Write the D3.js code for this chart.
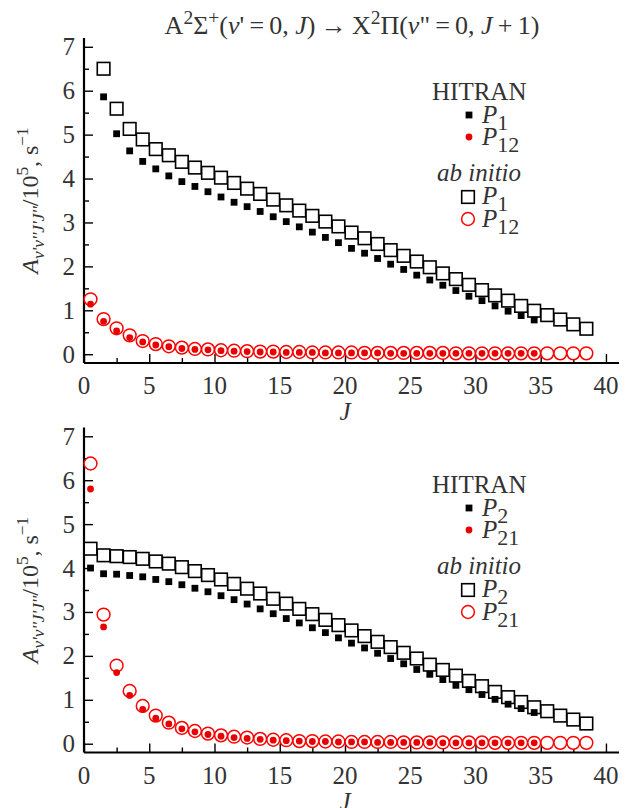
<!DOCTYPE html>
<html>
<head>
<meta charset="utf-8">
<title>A-X P branch</title>
<script src="https://cdn.jsdelivr.net/npm/d3@7/dist/d3.min.js"></script>
<style>
body { margin:0; background:#fff; }
text { font-family:"Liberation Serif","Times New Roman",serif; fill:#333; }
</style>
</head>
<body>
<script>
// J values (half-integer rotational numbers)
var jFrom05 = [0.5,1.5,2.5,3.5,4.5,5.5,6.5,7.5,8.5,9.5,10.5,11.5,12.5,13.5,14.5,15.5,16.5,17.5,18.5,19.5,
               20.5,21.5,22.5,23.5,24.5,25.5,26.5,27.5,28.5,29.5,30.5,31.5,32.5,33.5,34.5,35.5,36.5,37.5,38.5];
var jFrom15 = jFrom05.slice(1);

// top panel : P1 / P12
var p1Hitran = [5.86,5.02,4.63,4.39,4.22,4.06,3.93,3.82,3.70,3.58,3.46,3.36,3.25,3.13,3.02,2.90,2.78,
                2.66,2.54,2.41,2.30,2.18,2.05,1.93,1.80,1.69,1.57,1.45,1.32,1.22,1.10,0.98,0.88,0.78];
var p1Abinit = [6.50,5.59,5.13,4.89,4.67,4.53,4.38,4.25,4.13,4.02,3.90,3.77,3.65,3.52,3.39,3.27,3.15,3.02,2.91,
                2.77,2.64,2.51,2.37,2.24,2.11,1.98,1.84,1.71,1.58,1.46,1.34,1.22,1.10,0.99,0.89,0.79,0.68,0.58];
var p12Hitran = [1.14,0.75,0.53,0.38,0.28,0.21,0.17,0.13,0.11,0.10,0.08,0.07,0.06,0.05,0.05,0.04,0.04,0.04,
                 0.03,0.03,0.03,0.03,0.03,0.02,0.02,0.02,0.02,0.02,0.02,0.02,0.02,0.02,0.02,0.02,0.02];
var p12Abinit = [1.25,0.80,0.59,0.43,0.30,0.23,0.18,0.15,0.12,0.11,0.09,0.08,0.07,0.06,0.06,0.05,0.05,0.04,0.04,0.04,
                 0.04,0.03,0.03,0.03,0.03,0.03,0.03,0.03,0.02,0.02,0.02,0.02,0.02,0.02,0.02,0.02,0.02,0.02,0.02];

// bottom panel : P2 / P21
var p2Hitran = [4.00,3.87,3.86,3.83,3.80,3.74,3.69,3.62,3.54,3.46,3.37,3.28,3.18,3.07,2.96,2.85,2.75,2.64,
                2.53,2.41,2.29,2.18,2.06,1.94,1.82,1.69,1.58,1.46,1.33,1.23,1.12,1.01,0.90,0.80,0.71];
var p2Abinit = [4.44,4.29,4.27,4.25,4.21,4.15,4.10,4.02,3.93,3.84,3.74,3.64,3.53,3.42,3.30,3.19,3.07,2.95,2.82,
                2.70,2.58,2.45,2.32,2.20,2.07,1.94,1.80,1.68,1.55,1.43,1.31,1.18,1.06,0.95,0.83,0.74,0.64,0.55,0.46];
var p21Hitran = [5.80,2.66,1.62,1.10,0.78,0.58,0.45,0.34,0.27,0.21,0.17,0.14,0.12,0.10,0.08,0.07,0.06,0.05,
                 0.05,0.04,0.04,0.04,0.03,0.03,0.03,0.03,0.03,0.02,0.02,0.02,0.02,0.02,0.02,0.02,0.02];
var p21Abinit = [6.38,2.94,1.78,1.20,0.86,0.64,0.48,0.36,0.29,0.23,0.19,0.16,0.14,0.11,0.09,0.08,0.06,0.06,0.05,0.05,
                 0.04,0.04,0.04,0.04,0.03,0.03,0.03,0.03,0.03,0.03,0.03,0.02,0.02,0.02,0.02,0.02,0.02,0.02,0.02];

var xTicks = [0,5,10,15,20,25,30,35,40];
var yTicks = [0,1,2,3,4,5,6,7];

var W = 629, H = 808, fs = 25;
var svg = d3.select("body").append("svg").attr("width",W).attr("height",H);

// little helper for text with sub/superscripts, parts: {t, i(talic), s(hift px), z(size factor)}
function rich(g, x, y, parts, size, anchor){
  var t = g.append("text").attr("x",x).attr("y",y).attr("font-size",size).attr("text-anchor",anchor||"start");
  var cur = 0;
  parts.forEach(function(p){
    var s = p.s || 0;
    t.append("tspan").text(p.t)
      .attr("font-style", p.i ? "italic" : "normal")
      .attr("font-size", size*(p.z||1))
      .attr("dy", s-cur);
    cur = s;
  });
  return t;
}

var x = d3.scaleLinear().domain([0,41]).range([84,619]);

function panel(top, bottom, series, names, legY){
  var g = svg.append("g");
  var y = d3.scaleLinear().domain([-0.2,7.2]).range([bottom,top]);

  // x axis, ticks inside
  var xa = d3.axisBottom(x).tickValues(d3.range(0,41,2.5)).tickSize(-9).tickFormat("");
  g.append("g").attr("transform","translate(0,"+bottom+")").call(xa)
    .call(function(a){
      a.select(".domain").attr("stroke","#000").attr("stroke-width",2.2).attr("d","M84,0H619");
      a.selectAll(".tick line").attr("stroke","#000").attr("stroke-width",1.4)
        .attr("y2",function(d){ return d%5===0 ? -9 : -5; });
    });
  g.selectAll(".xl").data(xTicks).enter().append("text")
    .attr("x",function(d){ return x(d); }).attr("y",bottom+31)
    .attr("text-anchor","middle").attr("font-size",fs).text(function(d){ return d; });
  rich(g, 345, bottom+57, [{t:"J",i:1}], fs, "middle");

  var ya = d3.axisLeft(y).tickValues(d3.range(0,7.01,0.5)).tickSize(-9).tickFormat("");
  g.append("g").attr("transform","translate(84,0)").call(ya)
    .call(function(a){
      a.select(".domain").attr("stroke","#000").attr("stroke-width",2.2).attr("d","M0,"+top+"V"+bottom);
      a.selectAll(".tick line").attr("stroke","#000").attr("stroke-width",1.4)
        .attr("x2",function(d){ return d%1===0 ? 9 : 5; });
    });
  g.selectAll(".yl").data(yTicks).enter().append("text")
    .attr("x",75).attr("y",function(d){ return y(d); }).attr("dy","0.34em")
    .attr("text-anchor","end").attr("font-size",fs).text(function(d){ return d; });

  // y label (rotated)
  var lab = g.append("g").attr("transform","translate(38,"+((top+bottom)/2)+") rotate(-90)");
  rich(lab, 0, 0, [{t:"A",i:1},{t:"v'v''J'J''",i:1,s:6,z:0.72},{t:"/10",s:0},{t:"5",s:-10,z:0.72},{t:", s",s:0},{t:"\u22121",s:-10,z:0.72}], 24, "middle");

  // marks: open first, filled on top
  g.selectAll(".oc").data(series.abRed.v).enter().append("circle")
    .attr("cx",function(d,i){ return x(series.abRed.j[i]); }).attr("cy",function(d){ return y(d); })
    .attr("r",6.4).attr("fill","#fff").attr("stroke","#f00").attr("stroke-width",1.5);
  g.selectAll(".os").data(series.abBlack.v).enter().append("rect")
    .attr("x",function(d,i){ return x(series.abBlack.j[i])-6.3; }).attr("y",function(d){ return y(d)-6.3; })
    .attr("width",12.6).attr("height",12.6).attr("fill","#fff").attr("stroke","#000").attr("stroke-width",1.6);
  g.selectAll(".fc").data(series.hiRed.v).enter().append("circle")
    .attr("cx",function(d,i){ return x(series.hiRed.j[i]); }).attr("cy",function(d){ return y(d); })
    .attr("r",3.4).attr("fill","#e80000");
  g.selectAll(".fs").data(series.hiBlack.v).enter().append("rect")
    .attr("x",function(d,i){ return x(series.hiBlack.j[i])-3.4; }).attr("y",function(d){ return y(d)-3.4; })
    .attr("width",6.8).attr("height",6.8).attr("fill","#000");

  // legend
  var lg = g.append("g");
  rich(lg, 432, legY, [{t:"HITRAN"}], fs);
  lg.append("rect").attr("x",469-3.4).attr("y",legY+15-3.4).attr("width",6.8).attr("height",6.8).attr("fill","#000");
  rich(lg, 482, legY+23, [{t:"P",i:1},{t:names[0],s:7,z:0.88}], fs);
  lg.append("circle").attr("cx",469).attr("cy",legY+37).attr("r",3.4).attr("fill","#e80000");
  rich(lg, 482, legY+45, [{t:"P",i:1},{t:names[1],s:7,z:0.88}], fs);
  rich(lg, 437, legY+81, [{t:"ab initio",i:1}], fs);
  lg.append("rect").attr("x",468-6.3).attr("y",legY+97-6.3).attr("width",12.6).attr("height",12.6)
    .attr("fill","#fff").attr("stroke","#000").attr("stroke-width",1.6);
  rich(lg, 482, legY+104, [{t:"P",i:1},{t:names[0],s:7,z:0.88}], fs);
  lg.append("circle").attr("cx",468).attr("cy",legY+119).attr("r",6.4).attr("fill","#fff").attr("stroke","#f00").attr("stroke-width",1.5);
  rich(lg, 482, legY+127, [{t:"P",i:1},{t:names[1],s:7,z:0.88}], fs);
}

// title
var th = "\u2009";
rich(svg, 352, 34, [{t:"A"},{t:"2",s:-10,z:0.75},{t:"\u03A3"},{t:"+",s:-10,z:0.75},{t:"(",s:0},{t:"v",i:1},{t:"'"+th+"="+th+"0, "},
  {t:"J",i:1},{t:")"+th+"\u2192"+th+"X"},{t:"2",s:-10,z:0.75},{t:"\u03A0(",s:0},{t:"v",i:1},{t:"\""+th+"="+th+"0, "},{t:"J",i:1},{t:th+"+"+th+"1)"}], 26, "middle");

panel(38, 363,
  {hiBlack:{j:jFrom15.slice(0,34),v:p1Hitran}, abBlack:{j:jFrom15,v:p1Abinit},
   hiRed:{j:jFrom05.slice(0,35),v:p12Hitran}, abRed:{j:jFrom05,v:p12Abinit}},
  ["1","12"], 100);

panel(427.5, 752.5,
  {hiBlack:{j:jFrom05.slice(0,35),v:p2Hitran}, abBlack:{j:jFrom05,v:p2Abinit},
   hiRed:{j:jFrom05.slice(0,35),v:p21Hitran}, abRed:{j:jFrom05,v:p21Abinit}},
  ["2","21"], 493);
</script>
</body>
</html>
